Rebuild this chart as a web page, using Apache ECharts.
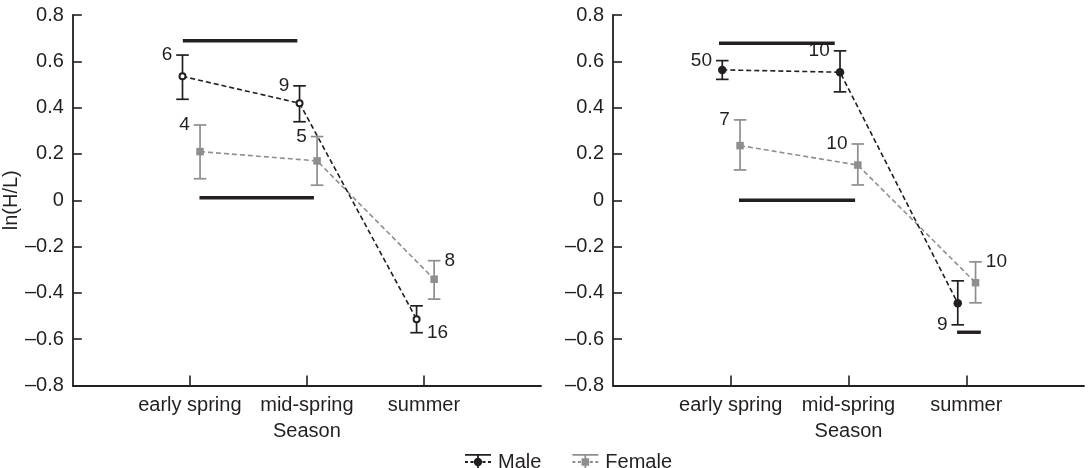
<!DOCTYPE html>
<html>
<head>
<meta charset="utf-8">
<script src="https://cdn.jsdelivr.net/npm/echarts@6/dist/echarts.min.js"></script>
<style>
html,body{margin:0;padding:0;background:#fff;}
#chart{width:1088px;height:468px;}
</style>
</head>
<body>
<div id="chart"></div>
<script>
// ---------- data ----------
const categories = ['early spring', 'mid-spring', 'summer'];
const yTickValues = [-0.8, -0.6, -0.4, -0.2, 0, 0.2, 0.4, 0.6, 0.8];
const yTickLabels = ['\u20130.8', '\u20130.6', '\u20130.4', '\u20130.2', '0', '0.2', '0.4', '0.6', '0.8'];

// left panel
const leftMaleMean   = [0.535, 0.419, -0.514];
const leftMaleLow    = [0.436, 0.339, -0.572];
const leftMaleHigh   = [0.627, 0.494, -0.456];
const leftMaleN      = [6, 9, 16];
const leftFemaleMean = [0.210, 0.170, -0.341];
const leftFemaleLow  = [0.093, 0.065, -0.427];
const leftFemaleHigh = [0.325, 0.275, -0.261];
const leftFemaleN    = [4, 5, 8];

// right panel
const rightMaleMean   = [0.563, 0.553, -0.445];
const rightMaleLow    = [0.522, 0.468, -0.538];
const rightMaleHigh   = [0.603, 0.645, -0.348];
const rightMaleN      = [50, 10, 9];
const rightFemaleMean = [0.236, 0.152, -0.356];
const rightFemaleLow  = [0.131, 0.066, -0.443];
const rightFemaleHigh = [0.347, 0.243, -0.266];
const rightFemaleN    = [7, 10, 10];

// significance bars: [from (category position), to, y value]
const leftSigBars  = [[0.94, 1.918, 0.689], [1.082, 2.06, 0.011]];
const rightSigBars = [[0.90, 1.883, 0.678], [1.07, 2.056, 0.0], [2.922, 3.124, -0.57]];

// ---------- styling / layout ----------
const FONT = "'Liberation Sans', Arial, Helvetica, sans-serif";
const INK = '#231f20';
const GREY = '#8e8e8e';
const FS = 20;
const dodge = [{ male: -0.063, female: 0.087 }, { male: -0.072, female: 0.079 }];
const labelPlace = [
  { male: ['lt', 'lt', 'rb'], female: ['lt', 'lt', 'rt'] },
  { male: ['lt', 'lt', 'lb'], female: ['lt', 'lt', 'rt'] }
];

const panels = [
  { male: [leftMaleMean, leftMaleLow, leftMaleHigh, leftMaleN],
    female: [leftFemaleMean, leftFemaleLow, leftFemaleHigh, leftFemaleN],
    sig: leftSigBars, maleSymbol: 'emptyCircle', maleSize: 6 },
  { male: [rightMaleMean, rightMaleLow, rightMaleHigh, rightMaleN],
    female: [rightFemaleMean, rightFemaleLow, rightFemaleHigh, rightFemaleN],
    sig: rightSigBars, maleSymbol: 'circle', maleSize: 8.5 }
];

const catData = [''].concat(categories).concat(['']);

function errRender(color, places) {
  return function (params, api) {
    const x = api.value(0), lo = api.value(2), hi = api.value(3), n = api.value(4);
    const pT = api.coord([x, hi]);
    const pB = api.coord([x, lo]);
    const hw = 6.3;
    const st = { stroke: color, lineWidth: 1.7 };
    const place = places[params.dataIndex];
    const capY = place[1] === 't' ? pT[1] : pB[1];
    const left = place[0] === 'l';
    return {
      type: 'group',
      children: [
        { type: 'line', shape: { x1: pT[0], y1: pT[1], x2: pB[0], y2: pB[1] }, style: st },
        { type: 'line', shape: { x1: pT[0] - hw, y1: pT[1], x2: pT[0] + hw, y2: pT[1] }, style: st },
        { type: 'line', shape: { x1: pB[0] - hw, y1: pB[1], x2: pB[0] + hw, y2: pB[1] }, style: st },
        { type: 'text', style: {
            text: String(n), x: left ? pT[0] - hw - 4 : pT[0] + hw + 4, y: capY,
            align: left ? 'right' : 'left', verticalAlign: 'middle',
            fontSize: 19, fontFamily: FONT, fill: INK } }
      ]
    };
  };
}

function sigRender(params, api) {
  const a = api.coord([api.value(0), api.value(2)]);
  const b = api.coord([api.value(1), api.value(2)]);
  return { type: 'line', shape: { x1: a[0], y1: a[1], x2: b[0], y2: b[1] },
           style: { stroke: INK, lineWidth: 3.4 } };
}

const grids = [
  { left: 70, top: 15, width: 471, height: 370.5 },
  { left: 613, top: 15, width: 471, height: 370.5 }
];
const xAxes = [], yAxes = [], series = [];

panels.forEach(function (p, i) {
  xAxes.push({
    type: 'category', gridIndex: i, data: catData, boundaryGap: false,
    axisLine: { onZero: false, lineStyle: { color: INK, width: 1.8 } },
    axisTick: { inside: true, length: 10, lineStyle: { color: INK, width: 1.6 },
                interval: function (idx) { return idx >= 1 && idx <= 3; } },
    axisLabel: { interval: 0, margin: 10, fontSize: FS, fontFamily: FONT, color: INK },
    splitLine: { show: false },
    name: 'Season', nameLocation: 'middle', nameGap: 36,
    nameTextStyle: { fontSize: FS, fontFamily: FONT, color: INK }
  });
  xAxes.push({ type: 'value', gridIndex: i, min: 0, max: 4, show: false });
  yAxes.push({
    type: 'value', gridIndex: i, min: -0.8, max: 0.8, interval: 0.2,
    axisLine: { show: true, lineStyle: { color: INK, width: 1.8 } },
    axisTick: { show: true, inside: true, length: 9, lineStyle: { color: INK, width: 1.6 } },
    axisLabel: { margin: 9, fontSize: FS, fontFamily: FONT, color: INK,
      formatter: function (v) {
        const k = yTickValues.findIndex(function (t) { return Math.abs(t - v) < 1e-6; });
        return k >= 0 ? yTickLabels[k] : '';
      } },
    splitLine: { show: false },
    name: i === 0 ? 'ln(H/L)' : '', nameLocation: 'middle', nameGap: 40, nameRotate: 90,
    nameTextStyle: { fontSize: FS, fontFamily: FONT, color: INK }
  });
  const xv = 2 * i + 1;
  ['male', 'female'].forEach(function (sex) {
    const arr = p[sex];
    const off = dodge[i][sex];
    const color = sex === 'male' ? INK : GREY;
    const name = sex === 'male' ? 'Male' : 'Female';
    const pts = arr[0].map(function (m, k) { return [k + 1 + off, m]; });
    const err = arr[0].map(function (m, k) { return [k + 1 + off, m, arr[1][k], arr[2][k], arr[3][k]]; });
    series.push({
      type: 'custom', name: name, xAxisIndex: xv, yAxisIndex: i, z: 3,
      renderItem: errRender(color, labelPlace[i][sex]), data: err, silent: true
    });
    series.push({
      type: 'line', name: name, xAxisIndex: xv, yAxisIndex: i, z: sex === 'male' ? 6 : 5,
      data: pts,
      symbol: sex === 'male' ? p.maleSymbol : 'rect',
      symbolSize: sex === 'male' ? p.maleSize : 7.5,
      itemStyle: { color: color, borderWidth: sex === 'male' && p.maleSymbol === 'emptyCircle' ? 1.6 : 0 },
      lineStyle: { color: color, width: 1.6, type: [5, 3] },
      animation: false, silent: true
    });
  });
  series.push({
    type: 'custom', xAxisIndex: xv, yAxisIndex: i, z: 2,
    renderItem: sigRender, data: p.sig, silent: true
  });
});

const maleIcon = 'path://M0 0H26V1.8H0Z M0 14.2H26V16H0Z M12.1 0H13.9V16H12.1Z ' +
  'M0 7.1H3V8.9H0Z M5.5 7.1H8.5V8.9H5.5Z M17.5 7.1H20.5V8.9H17.5Z M23 7.1H26V8.9H23Z ' +
  'M17.2 8A4.2 4.2 0 1 1 8.8 8A4.2 4.2 0 1 1 17.2 8Z';
const femaleIcon = 'path://M0 0H26V1.8H0Z M0 14.2H26V16H0Z M12.1 0H13.9V16H12.1Z ' +
  'M0 7.1H3V8.9H0Z M5.5 7.1H8.5V8.9H5.5Z M17.5 7.1H20.5V8.9H17.5Z M23 7.1H26V8.9H23Z ' +
  'M9.2 4.2H16.8V11.8H9.2Z';

const chart = echarts.init(document.getElementById('chart'), null, { renderer: 'canvas' });
chart.setOption({
  animation: false,
  backgroundColor: '#ffffff',
  grid: grids,
  xAxis: xAxes,
  yAxis: yAxes,
  legend: {
    left: 460, top: 447, itemWidth: 26, itemHeight: 16, itemGap: 31,
    selectedMode: false,
    textStyle: { fontSize: FS, fontFamily: FONT, color: INK, padding: [0, 0, 0, 2] },
    data: [
      { name: 'Male', icon: maleIcon, itemStyle: { color: INK, borderWidth: 0 } },
      { name: 'Female', icon: femaleIcon, itemStyle: { color: GREY, borderWidth: 0 } }
    ]
  },
  series: series
});
</script>
</body>
</html>
